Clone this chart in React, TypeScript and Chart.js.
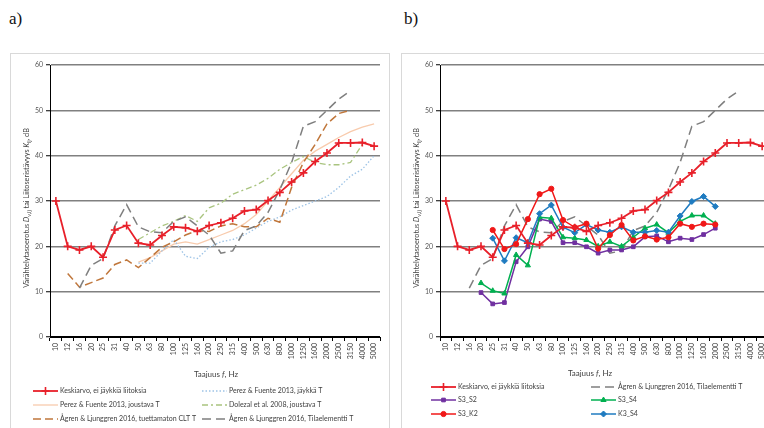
import React, { useEffect, useRef } from "react";
import { Chart, registerables } from "chart.js";
import { drawPoint } from "chart.js/helpers";
Chart.register(...registerables);

// ---------- data ----------
const freqLabels = ["10", "12", "16", "20", "25", "31", "40", "50", "63", "80", "100", "125", "160", "200", "250", "315", "400", "500", "630", "800", "1000", "1250", "1600", "2000", "2500", "3150", "4000", "5000"];

const meanNoRigid = [30, 20, 19.2, 20, 17.6, 23.6, 24.6, 20.7, 20.3, 22.4, 24.3, 24.1, 23.3, 24.6, 25.2, 26.2, 27.8, 28.1, 30.1, 31.9, 34.2, 36.2, 38.7, 40.6, 42.8, 42.8, 42.9, 42.1];
const perezRigid = [null, null, null, null, null, null, null, 16.3, 16.3, 19, 21.5, 17.8, 17.3, 19.8, 21, 21.5, 22.5, 24, 25.5, 26.5, 28, 29, 30, 31, 33, 35.5, 37, 40];
const perezFlexible = [null, null, null, null, null, null, null, 16.5, 17.5, 19, 20.5, 21, 20.5, 21.5, 22.5, 23.5, 25, 27, 30, 33, 36, 39, 41, 42.5, 44, 45.3, 46.3, 47];
const dolezalFlexible = [null, null, null, null, null, null, null, 21.5, 23, 24.5, 25.5, 26.8, 25.5, 28.5, 29.5, 31.5, 32.5, 33.5, 35, 37, 38.5, 39.8, 38.5, 38, 38, 38.5, 42.5, null];
const agrenUnsupported = [null, 14, 11, 12, 13, 16, 17, 15.3, 17.5, 19.8, 21, 22.5, 23.5, 23.3, 24.5, 25, 24.3, 24.3, 26.2, 25.3, 33, 38.5, 42.5, 47, 49.3, 50, null, null];
const agrenVolumetric = [null, null, 10.8, 15.8, 17.3, 24.5, 29.2, 24.3, 23.2, 23, 25.5, 26.5, 24.5, 22.5, 18.5, 19, 23.5, 24.5, 27.5, 32.5, 38.5, 46.5, 47.5, 50, 52.5, 54.3, null, null];

const s3s2 = [null, null, null, 9.8, 7.3, 7.6, 16.6, 19.9, 26, 25.5, 20.8, 20.8, 19.9, 18.5, 19.2, 19.2, 19.9, 22.1, 22.3, 21, 21.8, 21.5, 22.6, 24, null, null, null, null];
const s3s4 = [null, null, null, 11.9, 10.2, 9.6, 18.1, 15.8, 26.4, 26.2, 22, 21.8, 21.4, 20, 21, 20, 22, 24, 24.8, 23, 25.5, 26.8, 26.8, 25, null, null, null, null];
const s3k2 = [null, null, null, null, 23.6, 19.4, 20.5, 26, 31.5, 32.7, 25.8, 24.2, 25, 19.5, 22.5, 24.7, 21.3, 22.2, 21.5, 22, 25, 24.3, 25, 24.8, null, null, null, null];
const k3s4 = [null, null, null, null, 21.8, 16.8, 21.9, 20.8, 27.2, 29.1, 24.2, 23, 24.8, 23.6, 23.1, 24.3, 23.1, 23.1, 23.5, 23.1, 26.7, 29.9, 31, 28.8, null, null, null, null];

const yMin = 0;
const yMax = 60;
const yStep = 10;

// ---------- styles ----------
const FONT = "Lato, 'Liberation Sans', sans-serif";

type Style = {
  label: string;
  color: string;
  width: number;
  dash: number[];
  pointStyle?: string;
  radius?: number;
};

const sMean: Style = { label: "Keskiarvo, ei jäykkiä liitoksia", color: "#E8202A", width: 1.8, dash: [], pointStyle: "cross", radius: 4 };
const sPerezRigid: Style = { label: "Perez & Fuente 2013, jäykkä T", color: "#9DC3E6", width: 1.3, dash: [1.5, 2] };
const sPerezFlex: Style = { label: "Perez & Fuente 2013, joustava T", color: "#F8CBAD", width: 1.3, dash: [] };
const sDolezal: Style = { label: "Dolezal et al. 2008, joustava T", color: "#A9C47F", width: 1.3, dash: [6, 3, 2, 3] };
const sAgrenUns: Style = { label: "Ågren & Ljunggren 2016, tuettamaton CLT T", color: "#C0773C", width: 1.5, dash: [8, 4] };
const sAgrenVol: Style = { label: "Ågren & Ljunggren 2016, Tilaelementti T", color: "#7F7F7F", width: 1.5, dash: [9, 5] };
const sS3S2: Style = { label: "S3_S2", color: "#7030A0", width: 1.5, dash: [], pointStyle: "rect", radius: 2.6 };
const sS3S4: Style = { label: "S3_S4", color: "#00B050", width: 1.5, dash: [], pointStyle: "triangle", radius: 3 };
const sS3K2: Style = { label: "S3_K2", color: "#F01818", width: 1.5, dash: [], pointStyle: "circle", radius: 2.6 };
const sK3S4: Style = { label: "K3_S4", color: "#1F7BC0", width: 1.5, dash: [], pointStyle: "rectRot", radius: 3 };

function makeDataset(style: Style, data: (number | null)[]) {
  return {
    label: style.label,
    data,
    borderColor: style.color,
    backgroundColor: style.color,
    borderWidth: style.width,
    borderDash: style.dash,
    pointStyle: style.pointStyle || "circle",
    pointRadius: style.pointStyle ? style.radius : 0,
    pointBorderWidth: style.pointStyle === "cross" ? 1.6 : 1,
    pointBackgroundColor: style.color,
    pointBorderColor: style.color,
    tension: 0,
    spanGaps: false,
  };
}

type Seg = { t: string; it?: boolean; sub?: boolean };

function drawSegs(ctx: CanvasRenderingContext2D, segs: Seg[], x: number, y: number, size: number, color: string) {
  const fontFor = (s: Seg) => `${s.it ? "italic " : ""}${s.sub ? size * 0.75 : size}px ${FONT}`;
  let total = 0;
  for (const s of segs) {
    ctx.font = fontFor(s);
    total += ctx.measureText(s.t).width;
  }
  let cx = x - total / 2;
  ctx.fillStyle = color;
  ctx.textBaseline = "middle";
  ctx.textAlign = "left";
  for (const s of segs) {
    ctx.font = fontFor(s);
    ctx.fillText(s.t, cx, y + (s.sub ? size * 0.3 : 0));
    cx += ctx.measureText(s.t).width;
  }
}

const yTitleSegs: Seg[] = [
  { t: "Värähtelytasoerotus " },
  { t: "D", it: true },
  { t: "v,ij", sub: true },
  { t: " tai Liitoseristävyys " },
  { t: "K", it: true },
  { t: "ij", sub: true },
  { t: ", dB" },
];
const xTitleSegs: Seg[] = [{ t: "Taajuus " }, { t: "f", it: true }, { t: ", Hz" }];

type LegendItem = { style: Style; x: number; y: number };

type PanelProps = {
  series: { style: Style; data: (number | null)[] }[];
  legend: LegendItem[];
  width: number;
  height: number;
  padRight: number;
  yWidth: number;
  xTitle: { x: number; y: number };
  yTitle: { x: number; y: number };
};

function Panel(props: PanelProps) {
  const ref = useRef<HTMLCanvasElement | null>(null);
  useEffect(() => {
    if (!ref.current) return;
    const { series, legend, xTitle, yTitle } = props;
    const overlay = {
      id: "panelOverlay",
      afterDraw(chart: any) {
        const ctx: CanvasRenderingContext2D = chart.ctx;
        ctx.save();
        for (const it of legend) {
          const st = it.style;
          ctx.strokeStyle = st.color;
          ctx.lineWidth = st.width;
          ctx.setLineDash(st.dash);
          ctx.beginPath();
          ctx.moveTo(it.x - 27, it.y);
          ctx.lineTo(it.x - 2, it.y);
          ctx.stroke();
          ctx.setLineDash([]);
          if (st.pointStyle) {
            ctx.fillStyle = st.color;
            ctx.strokeStyle = st.color;
            ctx.lineWidth = st.pointStyle === "cross" ? 1.6 : 1;
            drawPoint(ctx, { pointStyle: st.pointStyle as any, radius: st.radius || 3, rotation: 0, borderWidth: 1 } as any, it.x - 14.5, it.y);
          }
          ctx.font = `7px ${FONT}`;
          ctx.fillStyle = "#404040";
          ctx.textAlign = "left";
          ctx.textBaseline = "middle";
          ctx.fillText(st.label, it.x, it.y);
        }
        drawSegs(ctx, xTitleSegs, xTitle.x, xTitle.y, 8, "#404040");
        ctx.translate(yTitle.x, yTitle.y);
        ctx.rotate(-Math.PI / 2);
        drawSegs(ctx, yTitleSegs, 0, 0, 7.3, "#404040");
        ctx.restore();
      },
    };

    const chart = new Chart(ref.current, {
      type: "line",
      data: {
        labels: freqLabels,
        datasets: series.map((s) => makeDataset(s.style, s.data)) as any,
      },
      options: {
        animation: false,
        responsive: false,
        maintainAspectRatio: false,
        layout: { padding: { left: 0, top: 12, right: props.padRight, bottom: props.height - 284 - 42 } },
        plugins: { legend: { display: false }, tooltip: { enabled: false } },
        scales: {
          x: {
            type: "category",
            offset: true,
            afterFit: (s: any) => {
              s.height = 42;
            },
            grid: { display: true, drawOnChartArea: false, drawTicks: true, tickLength: 4, offset: true, color: "#000", lineWidth: 1 },
            border: { display: true, color: "#000", width: 1 },
            ticks: { autoSkip: false, minRotation: 90, maxRotation: 90, padding: 2, color: "#404040", font: { size: 7, family: FONT } },
          },
          y: {
            min: yMin,
            max: yMax,
            afterFit: (s: any) => {
              s.width = props.yWidth;
            },
            ticks: { stepSize: yStep, padding: 3, color: "#595959", font: { size: 7, family: FONT } },
            grid: {
              color: (c: any) => (c.tick && c.tick.value === 0 ? "#000" : "#808080"),
              lineWidth: 1.5,
              tickLength: 4,
              tickColor: "#000",
              tickWidth: 1,
            },
            border: { display: true, color: "#000", width: 1 },
          },
        },
      },
      plugins: [overlay as any],
    } as any);
    return () => chart.destroy();
  }, []);
  return <canvas ref={ref} width={props.width} height={props.height} style={{ display: "block", width: props.width, height: props.height }} />;
}

export default function App() {
  const seriesA = [
    { style: sMean, data: meanNoRigid },
    { style: sAgrenVol, data: agrenVolumetric },
    { style: sAgrenUns, data: agrenUnsupported },
    { style: sDolezal, data: dolezalFlexible },
    { style: sPerezRigid, data: perezRigid },
    { style: sPerezFlex, data: perezFlexible },
  ];
  const legendA: LegendItem[] = [
    { style: sMean, x: 50, y: 338 },
    { style: sPerezRigid, x: 219, y: 338 },
    { style: sPerezFlex, x: 50, y: 352 },
    { style: sDolezal, x: 219, y: 352 },
    { style: sAgrenUns, x: 50, y: 366 },
    { style: sAgrenVol, x: 219, y: 366 },
  ];
  const seriesB = [
    { style: sMean, data: meanNoRigid },
    { style: sS3K2, data: s3k2 },
    { style: sK3S4, data: k3s4 },
    { style: sS3S4, data: s3s4 },
    { style: sS3S2, data: s3s2 },
    { style: sAgrenVol, data: agrenVolumetric },
  ];
  const legendB: LegendItem[] = [
    { style: sMean, x: 57, y: 334 },
    { style: sAgrenVol, x: 217, y: 334 },
    { style: sS3S2, x: 57, y: 347 },
    { style: sS3S4, x: 217, y: 347 },
    { style: sS3K2, x: 57, y: 361 },
    { style: sK3S4, x: 217, y: 361 },
  ];
  const labelStyle: React.CSSProperties = { position: "absolute", top: 9, fontFamily: "'Liberation Serif', serif", fontSize: 17, color: "#111" };
  const boxStyle: React.CSSProperties = { position: "absolute", top: 53, width: 380, height: 390, border: "1px solid #d9d9d9", boxSizing: "border-box" };
  return (
    <div style={{ position: "fixed", left: 0, top: 0, width: 764, height: 428, overflow: "hidden", background: "#fff" }}>
      <div style={{ ...labelStyle, left: 9 }}>a)</div>
      <div style={{ ...labelStyle, left: 404 }}>b)</div>
      <div style={{ ...boxStyle, left: 10 }} />
      <div style={{ ...boxStyle, left: 401 }} />
      <div style={{ position: "absolute", left: 10, top: 53 }}>
        <Panel series={seriesA} legend={legendA} width={380} height={375} padRight={10} yWidth={40} xTitle={{ x: 206, y: 321 }} yTitle={{ x: 17, y: 155 }} />
      </div>
      <div style={{ position: "absolute", left: 401, top: 53 }}>
        <Panel series={seriesB} legend={legendB} width={375} height={375} padRight={8} yWidth={39} xTitle={{ x: 189, y: 320 }} yTitle={{ x: 16, y: 155 }} />
      </div>
    </div>
  );
}
